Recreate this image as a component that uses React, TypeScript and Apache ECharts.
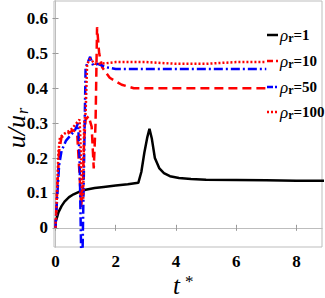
import React, { useEffect, useRef } from "react";
import * as echarts from "echarts";

const xTicks = [0, 2, 4, 6, 8];
const yTicks = [0, 0.1, 0.2, 0.3, 0.4, 0.5, 0.6];

const t1 = [0, 0.05, 0.1, 0.2, 0.3, 0.45, 0.6, 0.8, 1.0, 1.3, 1.6, 2.0, 2.4, 2.75, 2.85, 2.95, 3.05, 3.12, 3.2, 3.3, 3.45, 3.6, 3.8, 4.1, 4.5, 5, 6, 7, 8, 9];
const u1 = [0.017, 0.03, 0.045, 0.062, 0.075, 0.088, 0.096, 0.104, 0.109, 0.114, 0.117, 0.121, 0.125, 0.129, 0.16, 0.215, 0.26, 0.284, 0.255, 0.2, 0.17, 0.157, 0.148, 0.143, 0.14, 0.138, 0.137, 0.136, 0.135, 0.135];

const t10 = [0, 0.05, 0.12, 0.2, 0.4, 0.6, 0.72, 0.8, 0.85, 0.9, 0.95, 1.0, 1.1, 1.2, 1.27, 1.33, 1.38, 1.45, 1.55, 1.8, 2.2, 2.6, 3, 4, 5, 6, 7];
const u10 = [0, 0.1, 0.22, 0.26, 0.27, 0.28, 0.27, 0.15, 0.06, 0.1, 0.25, 0.31, 0.32, 0.29, 0.17, 0.3, 0.575, 0.5, 0.46, 0.43, 0.41, 0.4, 0.4, 0.4, 0.4, 0.4, 0.4];

const t50 = [0, 0.05, 0.12, 0.2, 0.35, 0.5, 0.65, 0.75, 0.8, 0.85, 0.9, 0.95, 1.0, 1.05, 1.15, 1.25, 1.4, 1.7, 2, 3, 4, 5, 6, 7];
const u50 = [0, 0.08, 0.18, 0.22, 0.25, 0.265, 0.28, 0.3, 0.2, -0.06, -0.06, 0.2, 0.46, 0.47, 0.49, 0.465, 0.47, 0.46, 0.455, 0.455, 0.455, 0.455, 0.455, 0.455];

const t100 = [0, 0.05, 0.1, 0.15, 0.3, 0.5, 0.7, 0.8, 0.85, 0.88, 0.92, 0.95, 1.0, 1.05, 1.15, 1.3, 1.5, 2, 3, 4, 5, 6, 7];
const u100 = [0, 0.1, 0.22, 0.26, 0.27, 0.28, 0.3, 0.31, 0.2, 0.08, 0.08, 0.3, 0.33, 0.47, 0.485, 0.47, 0.47, 0.475, 0.475, 0.47, 0.47, 0.475, 0.475];

const names = ["1", "10", "50", "100"];
const colors = ["#000000", "#ff0000", "#0000ff", "#ff0000"];
const dashes: any[] = [null, [6, 3], [6, 2, 2, 2], [2, 2]];

const zip = (a: number[], b: number[]) => a.map((v, i) => [v, b[i]]);

const FONT = "'Liberation Serif', 'Times New Roman', Times, serif";

export default function App() {
  const ref = useRef<HTMLDivElement>(null);
  useEffect(() => {
    if (!ref.current) return;
    const chart = echarts.init(ref.current, null, { renderer: "svg" });
    const axisLine = { show: true, lineStyle: { color: "#bdbdbd", width: 1 } };
    const tick = { show: true, inside: true, length: 3, lineStyle: { color: "#999" } };
    const mk = (name: string, data: number[][], color: string, type: any, z: number) => ({
      type: "line",
      name,
      data,
      showSymbol: false,
      symbol: "none",
      z,
      lineStyle: { color, width: 2.5, type },
      itemStyle: { color },
    });
    const legendRows = [35, 61, 87, 112];
    const legendGraphics: any[] = [];
    names.forEach((n, i) => {
      const y = legendRows[i];
      legendGraphics.push({
        type: "line",
        shape: { x1: 267, y1: y, x2: 278, y2: y },
        style: { stroke: colors[i], lineWidth: 2.5, lineDash: dashes[i] || undefined },
      });
      legendGraphics.push({
        type: "text",
        x: 280,
        y: y,
        style: {
          text: "{g|ρ}{s|r}{t|=" + n + "}",
          verticalAlign: "middle",
          rich: {
            g: { fontFamily: FONT, fontStyle: "italic", fontSize: 17, fill: "#000", lineHeight: 18 },
            s: { fontFamily: FONT, fontWeight: "bold", fontSize: 12, fill: "#000", verticalAlign: "bottom", lineHeight: 11, padding: [9, 0, 0, 0] },
            t: { fontFamily: FONT, fontWeight: "bold", fontSize: 15, fill: "#000", lineHeight: 18 },
          },
        },
      });
    });
    chart.setOption({
      animation: false,
      grid: { left: 54, right: 3, top: 1, bottom: 51, show: true, borderColor: "#bdbdbd", borderWidth: 1, outerBoundsMode: "none", containLabel: false },
      xAxis: [
        {
          type: "value",
          min: -0.05,
          max: 8.85,
          axisLine,
          splitLine: { show: false },
          axisTick: { ...tick, customValues: xTicks },
          axisLabel: {
            customValues: xTicks,
            formatter: (v: number) => String(v),
            fontFamily: FONT,
            fontWeight: "bold",
            fontSize: 17,
            color: "#000",
            margin: 6,
          },
        },
        {
          type: "value",
          position: "top",
          min: -0.05,
          max: 8.85,
          axisLine,
          splitLine: { show: false },
          axisTick: { ...tick, customValues: xTicks },
          axisLabel: { show: false },
        },
      ],
      yAxis: [
        {
          type: "value",
          min: -0.055,
          max: 0.65,
          axisLine,
          splitLine: { show: false },
          axisTick: { ...tick, customValues: yTicks },
          axisLabel: {
            customValues: yTicks,
            formatter: (v: number) => String(Math.round(v * 10) / 10),
            fontFamily: FONT,
            fontWeight: "bold",
            fontSize: 17,
            color: "#000",
            margin: 6,
          },
        },
        {
          type: "value",
          position: "right",
          min: -0.055,
          max: 0.65,
          axisLine,
          splitLine: { show: false },
          axisTick: { ...tick, customValues: yTicks },
          axisLabel: { show: false },
        },
      ],
      graphic: [
        {
          type: "text",
          x: 16,
          y: 128,
          rotation: Math.PI / 2,
          style: {
            text: "{a|u/u}{b|r}",
            align: "center",
            verticalAlign: "middle",
            rich: {
              a: { fontFamily: FONT, fontStyle: "italic", fontSize: 26, fill: "#000", lineHeight: 28 },
              b: { fontFamily: FONT, fontStyle: "italic", fontSize: 16, fill: "#000", verticalAlign: "bottom", lineHeight: 14, padding: [12, 0, 0, 1] },
            },
          },
        },
        { type: "text", x: 173, y: 298, style: { text: "t", fontFamily: FONT, fontStyle: "italic", fontSize: 25, fill: "#000", verticalAlign: "bottom" } },
        { type: "text", x: 185, y: 290, style: { text: "*", fontFamily: FONT, fontSize: 17, fill: "#000", verticalAlign: "bottom" } },
        ...legendGraphics,
      ],
      series: [
        mk("ρr=1", zip(t1, u1), colors[0], "solid", 2),
        mk("ρr=10", zip(t10, u10), colors[1], [9, 5], 3),
        mk("ρr=50", zip(t50, u50), colors[2], [9, 3, 2, 3], 4),
        mk("ρr=100", zip(t100, u100), colors[3], [2, 2], 5),
      ],
    });
    return () => chart.dispose();
  }, []);
  return <div ref={ref} style={{ width: 325, height: 298, position: "absolute", left: 0, top: 0 }} />;
}
